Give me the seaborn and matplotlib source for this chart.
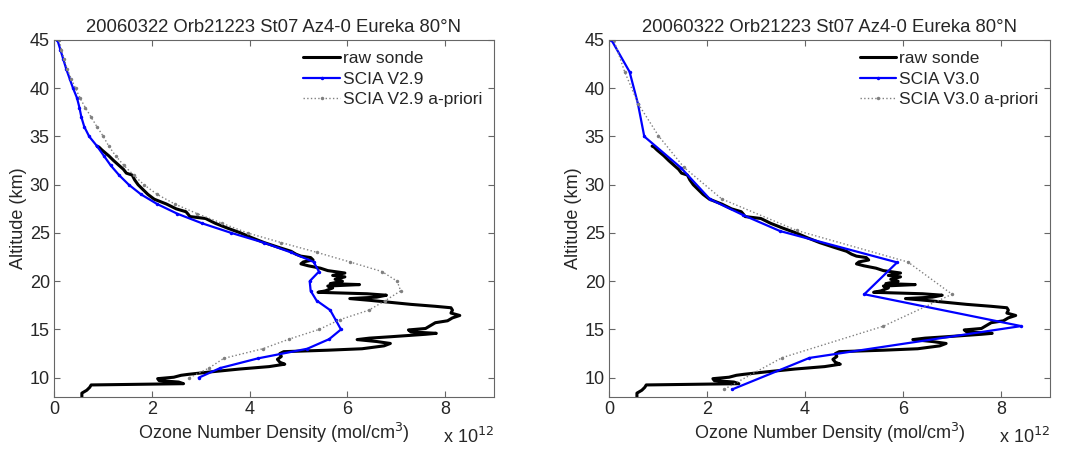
import numpy as np
import pandas as pd
import matplotlib
matplotlib.use("Agg")
import matplotlib.pyplot as plt
import seaborn as sns

# ---------------- data (x in units of 1e12 mol/cm^3, altitude in km) ----------------
title = "20060322 Orb21223 St07 Az4-0 Eureka 80°N"

sonde_alt = [8.03, 8.40, 8.70, 9.00, 9.25, 9.30, 9.38, 9.55, 9.70, 9.90, 10.05, 10.25, 10.35,
             10.6, 10.9, 11.15, 11.4, 11.6, 11.9, 12.2, 12.5, 12.7, 12.85, 13.0, 13.3, 13.55,
             13.75, 13.95, 14.1, 14.25, 14.5, 14.6, 14.75, 14.95, 15.1, 15.4, 15.7, 15.9, 16.2,
             16.45, 16.7, 17.0, 17.25, 17.4, 17.6, 17.8, 18.0, 18.2, 18.35, 18.55, 18.7, 18.85,
             19.0, 19.3, 19.5, 19.65, 19.75, 20.0, 20.2, 20.45, 20.6, 20.85, 21.1, 21.35, 21.6,
             21.8, 22.0, 22.2, 22.45, 22.6, 22.8, 23.1, 23.5, 24.0, 24.5, 25.0, 25.5, 26.0, 26.5,
             26.7, 26.9, 27.2, 27.5, 28.0, 28.5, 29.0, 29.5, 30.0, 30.5, 31.0, 31.2, 31.6, 32.0,
             32.5, 33.0, 33.3, 33.6, 33.9, 34.0]
sonde_val = [0.57, 0.57, 0.67, 0.73, 0.76, 1.5, 2.65, 2.55, 2.15, 2.12, 2.45, 2.60, 2.75,
             3.2, 3.8, 4.4, 4.72, 4.62, 4.57, 4.65, 4.62, 4.70, 5.6, 6.3, 6.75, 6.88,
             6.6, 6.20, 6.45, 6.9, 7.6, 7.82, 7.3, 7.25, 7.6, 7.7, 7.8, 8.05, 8.15,
             8.3, 8.12, 8.15, 8.12, 7.8, 7.3, 6.9, 6.5, 6.05, 6.6, 6.8, 6.4, 5.4,
             5.55, 5.7, 5.6, 6.25, 5.65, 5.9, 5.75, 5.95, 5.7, 5.95, 5.6, 5.45, 5.2,
             5.05, 5.1, 5.3, 5.25, 5.05, 4.95, 4.85, 4.6, 4.3, 4.05, 3.82, 3.55, 3.3, 3.1,
             2.78, 2.75, 2.7, 2.5, 2.3, 2.05, 1.92, 1.82, 1.72, 1.65, 1.60, 1.48, 1.42, 1.33,
             1.22, 1.12, 1.05, 0.98, 0.92, 0.88]

v29_alt = [10, 11, 12, 13, 14, 15, 16, 17, 18, 19, 20, 21, 22, 23, 24, 25, 26, 27, 28, 29,
           30, 31, 32, 33, 34, 35, 36, 37, 38, 39, 40, 41, 42, 43, 44, 45]
v29_val = [2.96, 3.40, 4.17, 5.18, 5.63, 5.87, 5.76, 5.65, 5.37, 5.25, 5.23, 5.42, 5.31, 4.84,
           4.29, 3.63, 3.03, 2.52, 2.11, 1.78, 1.53, 1.33, 1.16, 1.02, 0.88, 0.72, 0.62, 0.56,
           0.52, 0.47, 0.39, 0.32, 0.25, 0.19, 0.13, 0.07]
v29_apr = [2.77, 3.17, 3.47, 4.27, 4.81, 5.42, 5.84, 6.44, 6.78, 7.09, 7.02, 6.71, 6.05, 5.37,
           4.65, 3.96, 3.44, 2.93, 2.47, 2.11, 1.84, 1.63, 1.43, 1.26, 1.12, 1.01, 0.88, 0.76,
           0.64, 0.53, 0.44, 0.35, 0.27, 0.21, 0.15, 0.11]

v30_alt = [8.8, 12.05, 15.35, 18.65, 21.95, 25.2, 26.85, 28.5, 31.75, 35.0, 38.4, 41.7, 45.0]
v30_val = [2.52, 4.09, 8.41, 5.21, 5.88, 3.49, 2.74, 2.06, 1.47, 0.72, 0.59, 0.42, 0.05]
apr30_alt = [8.8, 12.07, 15.34, 18.65, 21.99, 25.26, 28.53, 31.8, 35.07, 38.35, 41.7, 45.0]
apr30_val = [2.35, 3.53, 5.60, 7.00, 6.10, 3.83, 2.30, 1.53, 1.01, 0.60, 0.32, 0.10]

panels = [
    ("SCIA V2.9", v29_alt, v29_val, v29_alt, v29_apr),
    ("SCIA V3.0", v30_alt, v30_val, apr30_alt, apr30_val),
]

xticks = [0, 2, 4, 6, 8]
yticks = [10, 15, 20, 25, 30, 35, 40, 45]

# ---------------- style ----------------
sns.set_style("ticks")
plt.rcParams["font.family"] = ["Liberation Sans", "DejaVu Sans"]
plt.rcParams["font.size"] = 12

fig = plt.figure(figsize=(10.69, 4.5), dpi=100)
W, H = 1069.0, 450.0
axes_px = [(54, 40, 494, 397), (609, 40, 1050, 397)]

for (name, b_alt, b_val, a_alt, a_val), (l, t, r, b) in zip(panels, axes_px):
    ax = fig.add_axes([l / W, 1 - b / H, (r - l) / W, (b - t) / H])
    df_s = pd.DataFrame({"x": sonde_val, "y": sonde_alt})
    df_b = pd.DataFrame({"x": b_val, "y": b_alt})
    df_a = pd.DataFrame({"x": a_val, "y": a_alt})
    sns.lineplot(data=df_s, x="x", y="y", sort=False, estimator=None, ax=ax,
                 color="black", linewidth=2.2, label="raw sonde")
    sns.lineplot(data=df_b, x="x", y="y", sort=False, estimator=None, ax=ax,
                 color="#0000ff", linewidth=1.6, marker="o", markersize=2.5,
                 markeredgewidth=0, label=name)
    sns.lineplot(data=df_a, x="x", y="y", sort=False, estimator=None, ax=ax,
                 color="#808080", linewidth=1.0, linestyle=":", marker="o",
                 markersize=2.5, markeredgewidth=0, label=name + " a-priori")
    ax.set_xlim(0, 9)
    ax.set_ylim(8, 45)
    ax.set_xticks(xticks)
    ax.set_yticks(yticks)
    ax.set_xticklabels([str(v) for v in xticks], fontsize=13)
    ax.set_yticklabels([str(v) for v in yticks], fontsize=13)
    ax.tick_params(direction="in", top=True, right=True, length=4, width=0.8,
                   color="#666666", pad=3)
    for s in ax.spines.values():
        s.set_visible(True)
        s.set_color("#666666")
        s.set_linewidth(0.8)
    ax.set_xlabel("Ozone Number Density (mol/cm$^3$)", fontsize=13, labelpad=2)
    ax.set_ylabel("Altitude (km)", fontsize=13, labelpad=2)
    ax.set_title(title, fontsize=13.3, pad=6)
    ax.text(1.0, -0.085, "x 10$^{12}$", transform=ax.transAxes, ha="right",
            va="top", fontsize=13)
    leg = ax.legend(loc="upper right", frameon=False, fontsize=12.5, handlelength=2.1,
                    handletextpad=0.2, labelspacing=0.3, borderaxespad=0.25)

fig.savefig("out.png", dpi=100)
